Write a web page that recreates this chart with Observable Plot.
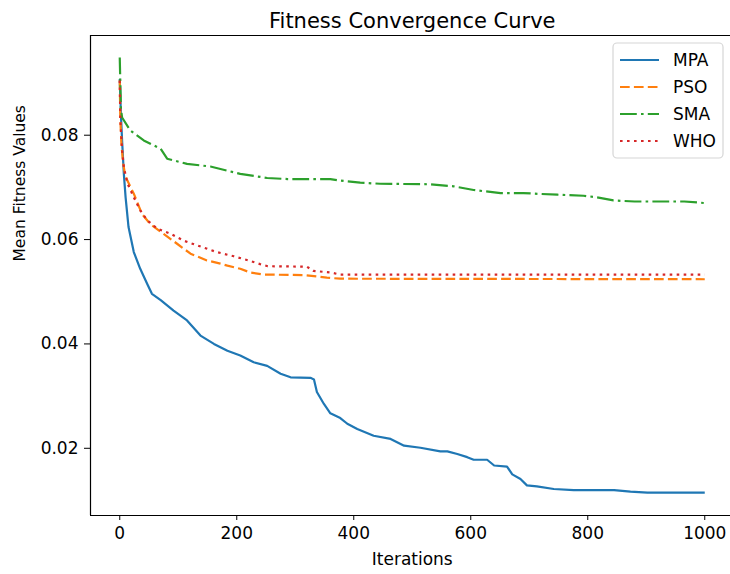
<!DOCTYPE html>
<html>
<head>
<meta charset="utf-8">
<script src="https://cdn.jsdelivr.net/npm/d3@7"></script>
<script src="https://cdn.jsdelivr.net/npm/@observablehq/plot@0.6"></script>
<style>
  html, body { margin: 0; padding: 0; background: #fff; overflow: hidden; }
  #chart { position: relative; width: 730px; height: 574px; overflow: hidden; }
</style>
</head>
<body>
<div id="chart"></div>
<script>
const title = "Fitness Convergence Curve";
const xLabel = "Iterations";
const yLabel = "Mean Fitness Values";
const xTicks = [0, 200, 400, 600, 800, 1000];
const yTicks = [0.02, 0.04, 0.06, 0.08];
const xDomain = [-50, 1050];
const yDomain = [0.00712, 0.09911];
const seriesNames = ["MPA", "PSO", "SMA", "WHO"];
const seriesColors = ["#1f77b4", "#ff7f0e", "#2ca02c", "#d62728"];

const mpaIter = [0, 2, 4, 7, 10, 15, 24, 35, 47, 55, 70, 92, 115, 138, 161, 184, 206, 229, 252, 275, 292, 326, 332, 337, 349, 360, 377, 389, 406, 434, 463, 486, 514, 548, 560, 577, 594, 605, 628, 640, 662, 671, 685, 696, 713, 742, 776, 845, 873, 902, 1000];
const mpaVal = [0.0908, 0.0840, 0.0790, 0.0726, 0.0681, 0.0624, 0.0576, 0.0544, 0.0515, 0.0496, 0.0484, 0.0464, 0.0445, 0.0416, 0.0400, 0.0387, 0.0378, 0.0365, 0.0358, 0.0343, 0.0336, 0.0335, 0.0332, 0.0308, 0.0285, 0.0267, 0.0258, 0.0247, 0.0237, 0.0224, 0.0218, 0.0205, 0.0201, 0.0194, 0.0194, 0.0189, 0.0183, 0.0178, 0.0178, 0.0167, 0.0165, 0.0150, 0.0141, 0.0129, 0.0127, 0.0122, 0.0120, 0.0120, 0.0117, 0.0115, 0.0115];

const psoIter = [0, 1, 3, 6, 9, 13, 24, 38, 52, 75, 98, 121, 149, 172, 184, 206, 223, 246, 315, 354, 377, 1000];
const psoVal = [0.0905, 0.0830, 0.0780, 0.0745, 0.0725, 0.0713, 0.0688, 0.0649, 0.0630, 0.0611, 0.0592, 0.0573, 0.0560, 0.0554, 0.0550, 0.0544, 0.0537, 0.0533, 0.0532, 0.0527, 0.0525, 0.0524];

const smaIter = [0, 1, 2, 4, 18, 41, 70, 81, 115, 155, 184, 206, 252, 287, 360, 377, 411, 445, 530, 571, 605, 651, 690, 748, 793, 816, 844, 880, 965, 1000];
const smaVal = [0.0949, 0.0900, 0.0850, 0.0834, 0.0809, 0.0790, 0.0774, 0.0755, 0.0745, 0.0740, 0.0732, 0.0726, 0.0718, 0.0716, 0.0716, 0.0713, 0.0709, 0.0707, 0.0706, 0.0702, 0.0695, 0.0689, 0.0689, 0.0686, 0.0684, 0.0681, 0.0675, 0.0673, 0.0673, 0.0670];

const whoIter = [0, 1, 4, 7, 13, 24, 35, 47, 64, 87, 109, 132, 166, 195, 223, 240, 253, 320, 331, 360, 377, 1000];
const whoVal = [0.0905, 0.0830, 0.0771, 0.0739, 0.0708, 0.0681, 0.0656, 0.0637, 0.0621, 0.0611, 0.0598, 0.0589, 0.0576, 0.0568, 0.0559, 0.0553, 0.0549, 0.0548, 0.0540, 0.0537, 0.0533, 0.0533];

const toRows = (its, vals) => its.map((it, i) => ({it, v: vals[i]}));
const series = [
  {name: seriesNames[0], rows: toRows(mpaIter, mpaVal), color: seriesColors[0], dash: null},
  {name: seriesNames[1], rows: toRows(psoIter, psoVal), color: seriesColors[1], dash: "9.7,4.2"},
  {name: seriesNames[2], rows: toRows(smaIter, smaVal), color: seriesColors[2], dash: "16.8,4.2,2.6,4.2"},
  {name: seriesNames[3], rows: toRows(whoIter, whoVal), color: seriesColors[3], dash: "2.6,4.4"}
];

const font = "DejaVu Sans, sans-serif";

const lineMarks = series.map(s => Plot.line(s.rows, {
  x: "it", y: "v", stroke: s.color, strokeWidth: 2.2,
  strokeDasharray: s.dash ?? undefined, strokeLinejoin: "round", strokeLinecap: "butt"
}));

const plot = Plot.plot({
  width: 730,
  height: 574,
  marginLeft: 90,
  marginRight: 0,
  marginTop: 35,
  marginBottom: 59,
  style: {fontFamily: font, fontSize: "17px", color: "#000", background: "#fff"},
  x: {domain: xDomain, range: [90, 733.5], ticks: xTicks, tickFormat: d3.format("d"), label: null},
  y: {domain: yDomain, ticks: yTicks, tickFormat: d3.format(".2f"), label: null},
  marks: [
    ...lineMarks,
    Plot.axisX({ticks: xTicks, tickSize: 5, tickPadding: 6, tickFormat: d3.format("d"), label: null, fontSize: 17}),
    Plot.axisY({ticks: yTicks, tickSize: 6, tickPadding: 6, tickFormat: d3.format(".2f"), label: null, fontSize: 17}),
    // spines: left, bottom, top (the right spine lies just outside the picture)
    Plot.ruleX([xDomain[0]], {stroke: "#000", strokeWidth: 1.2}),
    Plot.ruleY(yDomain, {x1: xDomain[0], x2: xDomain[1], stroke: "#000", strokeWidth: 1.2}),
    Plot.text([title], {x: () => 500, frameAnchor: "top", dy: -22, fontSize: 21, fill: "#000"}),
    Plot.text([xLabel], {x: () => 500, frameAnchor: "bottom", dy: 49, fontSize: 17, fill: "#000"}),
    Plot.text([yLabel], {frameAnchor: "left", rotate: -90, dx: -70, dy: -14, fontSize: 15.5, fill: "#000"})
  ]
});

// Legend (drawn into the same SVG)
const svg = d3.select(plot);
const lg = svg.append("g").attr("font-family", font).attr("font-size", 17).attr("text-anchor", "start");
lg.append("rect").attr("x", 613).attr("y", 43).attr("width", 110).attr("height", 115)
  .attr("rx", 4).attr("fill", "#fff").attr("fill-opacity", 0.8)
  .attr("stroke", "#d6d6d6").attr("stroke-width", 1.2);
series.forEach((s, i) => {
  const yy = 60 + i * 27;
  lg.append("line").attr("x1", 620).attr("x2", 659).attr("y1", yy).attr("y2", yy)
    .attr("stroke", s.color).attr("stroke-width", 2.2)
    .attr("stroke-dasharray", s.dash ?? null);
  lg.append("text").attr("x", 673).attr("y", yy).attr("dy", "0.35em")
    .attr("text-anchor", "start").attr("fill", "#000").text(s.name);
});

document.getElementById("chart").appendChild(plot);
</script>
</body>
</html>
